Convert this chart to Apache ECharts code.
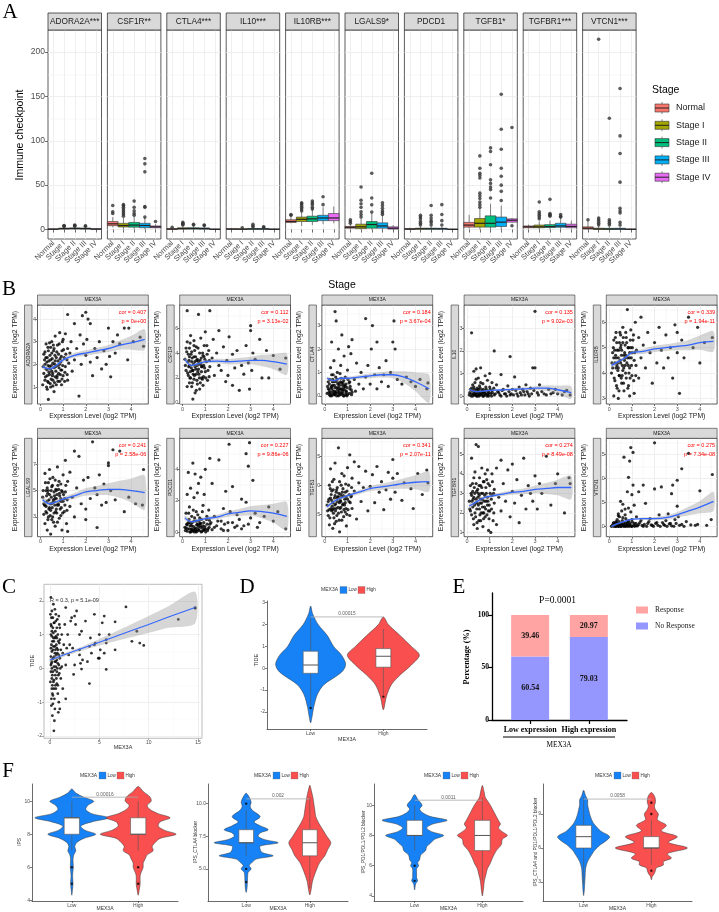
<!DOCTYPE html>
<html><head><meta charset="utf-8">
<script src="https://cdn.jsdelivr.net/npm/echarts@6.0.0/dist/echarts.min.js"></script>
<style>html,body{margin:0;padding:0;background:#fff;}#chart{width:719px;height:912px;}</style>
</head><body><div id="chart"></div>
<script>
// ===================== DATA =====================
// Panel A
const stages=['Normal','Stage I','Stage II','Stage III','Stage IV'];
const stageColors=['#F8766D','#A3A500','#00BF7D','#00B0F6','#E76BF3'];
const aGenes=['ADORA2A***','CSF1R**','CTLA4***','IL10***','IL10RB***','LGALS9*','PDCD1','TGFB1*','TGFBR1***','VTCN1***'];
const aYTicks=[0,50,100,150,200];
// [min,q1,median,q3,max] per stage
const aBoxStats=[
 [[0,0.2,0.4,0.7,1.3],[0,0.5,1,1.6,3],[0,0.6,1.1,1.8,3.2],[0,0.5,1,1.7,3],[0,0.2,0.5,0.9,1.6]],
 [[2.5,4.3,6.4,9,14],[0.5,2.8,4.5,7,13],[0.5,2.6,5,8,15],[0.3,2,4.5,7,14],[1,2,3,4,6]],
 [[0,0.2,0.5,1,2],[0,0.5,1,2,4],[0,0.5,1.1,2,4],[0,0.4,1,1.8,3.5],[0,0.1,0.3,0.5,1]],
 [[0,0.2,0.5,0.9,1.8],[0,0.2,0.4,0.8,1.5],[0,0.3,0.6,1.1,2.2],[0,0.3,0.6,1,2],[0,0.1,0.3,0.6,1]],
 [[7,8,9,11,15],[4,9,11.5,14,20],[5,9,12,15,22],[6,10,13,16,25],[7,10,13,18,26]],
 [[0.5,1.5,2.5,3.5,6],[0,1,3,6,12],[0,1.5,5.6,9,18],[0,1.5,4,7.5,16],[0,0.5,1.5,3,5]],
 [[0,0.2,0.5,1,2],[0,0.3,0.8,1.5,3.5],[0,0.3,0.8,1.5,3.5],[0,0.3,0.8,1.4,3.2],[0,0.1,0.2,0.4,0.8]],
 [[1,2.7,5,8,16.5],[0,2.7,7,12.4,24],[0,2.7,7,15.4,29],[0,3.4,8.3,14,27],[8,8.3,10.5,12,13]],
 [[1,2,3,4,5.5],[0,2,3,5,9],[0,2.2,3.3,5.5,10],[0,2.5,4,7,13],[1,2,3.5,6,10]],
 [[0,0.5,1.5,3,10],[0,0.2,0.6,1.5,4],[0,0.2,0.5,1.3,3.5],[0,0.2,0.6,1.4,3.5],[0,0.1,0.3,0.5,1]]
];
const aOutliers=[
 [[],[3.5,4,4.5],[3.8,4.4,5],[3.6,4.2],[]],
 [[18,20,27],[15,17,19,21,23,25,27,28],[16,18,21,25,32],[14,25,26,65,74,80],[9]],
 [[2.5],[5,6,7,8],[5,6],[4.5,5],[]],
 [[],[2],[3,4,6],[2.5,3],[]],
 [[16,17],[21,23,25,27,29,30],[23,25,28,30,32],[28,37],[]],
 [[7,9,11],[14,17,20,25,29,33,48],[19.6,27.8,35.6,63.5],[17,19,21,24,27,30],[]],
 [[],[5,7,9,12,14,16],[5,8,10,13,16,27],[5,10,17,28],[]],
 [[],[25,28,31,35,38,41,58,61,63.5,69,83],[35.6,45,48,52,56,73,88,92],[32.7,43,50,60,69,90.5,113,152.5],[115,4.2]],
 [[],[12,14,16,18,20,31],[15,16,17,18,34],[14,15,17],[]],
 [[11],[5,7,9,11,13,214.4],[5,7,9,11,125.4],[5,8,18.6,21,24,53.4,85.6,105.5,159],[]]
];

// Panel B
const bGenes=['ADORA2A','CSF1R','CTLA4','IL10','IL10RB','LGALS9','PDCD1','TGFB1','TGFBR1','VTCN1'];
const bCor=['cor = 0.407','cor = 0.112','cor = 0.184','cor = 0.135','cor = 0.339','cor = 0.241','cor = 0.227','cor = 0.341','cor = 0.274','cor = 0.275'];
const bP=['p = 0e+00','p = 3.13e-02','p = 3.67e-04','p = 9.02e-03','p = 1.94e-11','p = 2.58e-06','p = 9.86e-06','p = 2.07e-11','p = 8.49e-08','p = 7.34e-08'];
const bXTicks=[0,1,2,3,4];
const bYTicks=[[1,2,3,4],[0,2,4,6],[0,1,2,3],[0,1,2,3],[3,4,5,6],[3,5,7],[0,2,4],[2.5,5,7.5],[1,2,3,4,5],[0,2.5,5,7.5]];
const bYDec=[0,0,0,0,0,0,0,1,0,1];
const bYRange=[[0.25,4.62],[-0.1,7.86],[-0.35,3.88],[-0.35,4.03],[2.78,6.68],[1.5,8.97],[-0.3,5.98],[0.58,9.02],[0.78,5.82],[-1.08,9.17]];
const loessX=[0.1,0.4,0.7,1,1.5,2,2.5,3,3.5,4,4.6];
const bLoess=[
 [1.9,1.8,1.95,2.2,2.4,2.5,2.6,2.7,2.85,2.95,3.1],
 [3.5,3.0,3.15,3.3,3.35,3.3,3.35,3.4,3.4,3.3,3.1],
 [0.75,0.65,0.75,0.75,0.8,0.85,0.9,0.9,0.8,0.6,0.3],
 [0.3,0.2,0.22,0.25,0.27,0.3,0.32,0.35,0.35,0.28,0.15],
 [4.3,4.45,4.6,4.8,4.85,4.95,5.0,5.05,5.1,5.2,5.25],
 [4.3,4.0,4.15,4.35,4.6,4.9,5.0,5.1,5.1,5.0,4.85],
 [0.9,0.65,0.75,0.85,0.95,1.15,1.25,1.35,1.3,1.2,1.0],
 [3.15,3.6,3.9,4.1,4.4,4.7,4.85,5.0,5.15,5.25,5.3],
 [2.35,2.55,2.75,2.85,2.95,3.05,3.1,3.2,3.25,3.3,3.3],
 [0.0,0.3,0.55,0.75,0.8,0.8,0.9,1.2,1.6,2.0,2.6]
];
const bBand=[
 [0.12,0.08,0.08,0.08,0.1,0.12,0.13,0.15,0.2,0.3,0.45],
 [0.25,0.15,0.15,0.15,0.18,0.22,0.25,0.3,0.45,0.6,0.85],
 [0.08,0.06,0.06,0.07,0.08,0.1,0.12,0.15,0.25,0.4,0.6],
 [0.06,0.04,0.04,0.04,0.05,0.06,0.07,0.09,0.12,0.18,0.28],
 [0.1,0.07,0.07,0.08,0.1,0.12,0.13,0.15,0.2,0.28,0.4],
 [0.25,0.17,0.17,0.18,0.22,0.28,0.35,0.45,0.65,0.9,1.3],
 [0.15,0.1,0.1,0.1,0.13,0.17,0.22,0.3,0.42,0.6,0.9],
 [0.2,0.14,0.14,0.15,0.17,0.22,0.27,0.33,0.45,0.6,0.85],
 [0.13,0.08,0.08,0.08,0.1,0.12,0.15,0.2,0.28,0.4,0.6],
 [0.12,0.1,0.1,0.1,0.13,0.17,0.22,0.3,0.45,0.65,1.0]
];
const bPtsADORA2A=[[0.1,1.1],[0.15,1.6],[0.2,2.0],[0.2,1.3],[0.25,2.9],[0.25,1.8],[0.3,1.5],[0.3,2.3],[0.3,0.9],[0.35,2.6],[0.35,1.2],[0.35,0.45],[0.4,1.9],[0.4,2.95],[0.4,1.55],[0.45,2.2],[0.45,1.0],[0.5,1.7],[0.5,2.5],[0.5,3.0],[0.55,1.3],[0.55,2.05],[0.6,0.8],[0.6,1.85],[0.6,2.7],[0.65,1.45],[0.65,3.25],[0.7,2.3],[0.7,1.1],[0.75,1.95],[0.75,2.85],[0.8,1.6],[0.8,2.45],[0.85,3.4],[0.85,1.25],[0.9,2.1],[0.9,1.75],[0.95,2.6],[1.0,3.1],[1.0,1.5],[1.05,2.3],[1.1,1.9],[1.1,3.35],[1.2,2.7],[1.2,1.3],[1.3,2.5],[1.35,3.0],[1.4,1.7],[1.5,3.8],[1.5,2.2],[1.6,2.7],[1.7,0.6],[1.75,3.3],[1.8,2.0],[1.85,4.15],[1.9,2.9],[2.0,2.4],[2.05,3.1],[2.1,4.0],[2.2,2.1],[2.2,3.8],[2.3,1.5],[2.4,2.7],[2.5,2.3],[2.6,3.0],[2.7,1.8],[2.8,2.6],[2.9,2.0],[3.0,3.6],[3.05,2.35],[3.1,1.45],[3.2,3.0],[3.3,2.5],[3.4,3.3],[3.5,2.9],[3.7,3.6],[3.85,2.2],[3.9,3.6],[4.1,3.0],[4.4,3.2],[4.55,2.8],[0.2,2.55],[0.3,1.75],[0.45,2.75],[0.55,1.05],[0.65,2.15],[0.95,1.35],[1.25,2.05],[2.0,4.3],[1.2,4.2]];
const bDenseADORA2A=[[0.12,1.9],[0.18,2.2],[0.22,1.45],[0.28,2.1],[0.32,1.25],[0.33,2.75],[0.38,1.65],[0.42,2.4],[0.43,1.15],[0.48,1.95],[0.52,2.25],[0.53,1.5],[0.58,2.6],[0.62,1.2],[0.63,2.0],[0.68,1.7],[0.72,2.55],[0.73,1.4],[0.78,2.15],[0.82,1.85],[0.83,2.9],[0.88,1.55],[0.92,2.35],[0.93,1.1],[0.98,1.95],[1.02,2.65],[1.08,1.65],[1.12,2.45],[1.18,1.55],[0.15,2.45],[0.27,1.0],[0.37,2.15],[0.47,1.35],[0.57,2.85],[0.67,1.9],[0.77,1.25],[0.87,2.25],[0.97,3.0],[1.07,1.25],[1.17,2.2],[0.24,2.3],[0.44,1.8],[0.64,2.4],[0.84,2.0],[0.54,1.6],[0.74,1.5],[0.34,1.95],[0.94,1.75]];
const bPtsCSF1R=[[0.1,3.5],[0.15,2.6],[0.2,7.4],[0.2,4.9],[0.25,2.2],[0.25,3.9],[0.3,1.6],[0.3,4.4],[0.3,3.0],[0.35,5.4],[0.35,2.0],[0.4,3.3],[0.4,1.3],[0.4,4.1],[0.45,2.6],[0.45,0.3],[0.5,3.7],[0.5,1.9],[0.5,5.0],[0.55,2.9],[0.55,0.8],[0.6,4.5],[0.6,2.3],[0.65,3.5],[0.65,1.5],[0.7,7.1],[0.7,2.7],[0.75,4.0],[0.75,1.1],[0.8,3.1],[0.8,5.2],[0.85,2.0],[0.9,3.8],[0.9,1.4],[0.95,4.6],[1.0,2.5],[1.0,5.7],[1.05,3.3],[1.1,1.8],[1.15,4.2],[1.2,7.4],[1.2,2.9],[1.3,3.6],[1.35,5.1],[1.4,2.2],[1.5,4.0],[1.6,3.0],[1.6,5.8],[1.7,2.6],[1.8,4.5],[1.9,1.7],[1.95,3.4],[2.0,2.2],[2.05,5.3],[2.2,3.9],[2.2,1.4],[2.3,2.8],[2.4,4.2],[2.5,1.0],[2.6,3.0],[2.7,2.3],[2.8,4.6],[2.9,3.2],[2.95,1.1],[3.0,6.2],[3.0,5.8],[3.05,2.6],[3.1,4.0],[3.2,3.5],[3.4,5.1],[3.5,2.0],[3.7,4.2],[3.8,2.0],[4.0,3.8],[4.3,2.7],[4.55,3.6],[0.3,3.7],[0.5,4.6],[0.7,3.3],[0.85,2.9],[0.6,1.0],[0.2,1.3]];
const bDenseCSF1R=[[0.12,3.0],[0.18,4.1],[0.22,2.4],[0.28,3.4],[0.32,2.0],[0.33,4.8],[0.38,2.8],[0.42,3.6],[0.43,1.6],[0.48,3.1],[0.52,2.2],[0.53,4.2],[0.58,2.7],[0.62,3.4],[0.63,1.8],[0.68,4.4],[0.72,2.3],[0.73,3.1],[0.78,1.6],[0.82,3.6],[0.83,2.5],[0.88,4.0],[0.92,2.1],[0.93,3.0],[0.98,3.5],[1.02,2.0],[1.08,3.9],[1.12,2.6],[1.18,3.4],[0.15,4.4],[0.27,2.9],[0.37,3.9],[0.47,2.3],[0.57,3.7],[0.67,2.5],[0.77,3.4],[0.87,1.9],[0.97,2.8],[1.07,4.6],[1.17,2.1],[0.24,3.3],[0.44,2.6],[0.64,3.0],[0.84,2.9],[0.54,3.3],[0.74,2.0],[0.34,2.5],[0.94,3.7]];
const bPtsCTLA4=[[0.1,0.1],[0.15,0.3],[0.2,0.05],[0.2,0.5],[0.25,1.2],[0.25,0.15],[0.3,2.3],[0.3,0.4],[0.3,0.0],[0.35,0.7],[0.35,0.2],[0.4,1.5],[0.4,0.05],[0.45,0.35],[0.45,3.6],[0.5,0.1],[0.5,0.6],[0.5,3.2],[0.55,1.0],[0.55,0.25],[0.6,0.0],[0.6,2.0],[0.65,0.45],[0.65,0.15],[0.7,1.3],[0.7,0.05],[0.75,0.3],[0.75,2.6],[0.8,0.55],[0.8,0.1],[0.85,1.7],[0.85,0.0],[0.9,0.4],[0.9,0.8],[0.95,0.2],[1.0,1.1],[1.0,0.05],[1.05,2.1],[1.1,0.3],[1.1,0.6],[1.15,1.8],[1.2,0.15],[1.2,2.4],[1.3,0.7],[1.35,0.2],[1.4,1.4],[1.5,0.5],[1.6,1.0],[1.7,0.3],[1.8,3.3],[1.8,0.8],[1.9,1.3],[2.0,0.5],[2.05,2.0],[2.1,3.0],[2.2,0.9],[2.3,0.3],[2.3,2.3],[2.4,1.2],[2.5,0.6],[2.6,0.9],[2.7,1.5],[2.8,0.4],[2.9,1.0],[3.0,2.3],[3.05,3.2],[3.1,2.0],[3.2,0.7],[3.4,0.5],[3.6,0.8],[3.8,0.6],[4.0,0.4],[4.2,0.7],[4.5,0.3],[4.55,0.55],[0.3,0.9],[0.6,0.35],[0.4,0.6],[0.7,0.6],[0.2,0.25],[0.8,0.25]];
const bDenseCTLA4=[[0.12,0.4],[0.18,0.15],[0.22,0.7],[0.28,0.05],[0.32,0.3],[0.33,0.6],[0.38,0.1],[0.42,0.45],[0.43,0.2],[0.48,0.8],[0.52,0.0],[0.53,0.35],[0.58,0.15],[0.62,0.55],[0.63,0.05],[0.68,0.3],[0.72,0.75],[0.73,0.1],[0.78,0.45],[0.82,0.0],[0.83,0.65],[0.88,0.25],[0.92,0.05],[0.93,0.5],[0.98,0.35],[1.02,0.7],[1.08,0.1],[1.12,0.4],[1.18,0.05],[0.15,0.6],[0.27,0.35],[0.37,0.9],[0.47,0.15],[0.57,0.5],[0.67,0.95],[0.77,0.2],[0.87,0.45],[0.97,0.0],[1.07,0.55],[1.17,0.25],[0.24,0.0],[0.44,0.05],[0.64,0.25],[0.84,0.35],[0.54,0.7],[0.74,0.55],[0.34,0.45],[0.94,0.15]];
const bPtsIL10=[[0.1,0.05],[0.15,0.3],[0.2,0.1],[0.2,2.8],[0.25,0.5],[0.25,0.0],[0.3,1.1],[0.3,0.2],[0.35,0.05],[0.35,0.6],[0.4,1.2],[0.4,0.1],[0.45,0.35],[0.45,0.0],[0.5,0.8],[0.5,0.15],[0.55,0.05],[0.55,0.45],[0.6,1.25],[0.6,0.1],[0.65,0.25],[0.7,0.0],[0.7,0.55],[0.75,0.15],[0.8,0.9],[0.8,0.05],[0.85,0.3],[0.9,0.1],[0.9,0.7],[0.95,0.0],[1.0,0.4],[1.0,1.0],[1.05,0.1],[1.1,0.25],[1.2,2.0],[1.2,0.05],[1.3,0.5],[1.4,0.15],[1.5,0.95],[1.5,0.0],[1.6,0.3],[1.7,0.1],[1.8,0.45],[1.9,1.75],[1.9,0.05],[2.0,0.3],[2.1,0.85],[2.2,0.1],[2.3,0.4],[2.4,0.05],[2.5,0.2],[2.6,0.5],[2.7,0.1],[2.8,0.35],[2.9,1.25],[3.0,3.75],[3.0,1.25],[3.1,0.15],[3.2,0.5],[3.4,0.1],[3.6,0.3],[3.8,0.15],[4.0,0.1],[4.3,0.2],[4.55,0.05],[0.3,0.4],[0.5,0.3],[0.7,0.2],[0.4,0.75],[0.6,0.6],[1.1,0.6],[0.2,0.35]];
const bDenseIL10=[[0.12,0.15],[0.18,0.0],[0.22,0.25],[0.28,0.1],[0.32,0.05],[0.33,0.3],[0.38,0.15],[0.42,0.0],[0.43,0.25],[0.48,0.05],[0.52,0.2],[0.53,0.0],[0.58,0.35],[0.62,0.05],[0.63,0.15],[0.68,0.1],[0.72,0.3],[0.73,0.0],[0.78,0.2],[0.82,0.1],[0.83,0.4],[0.88,0.0],[0.92,0.2],[0.93,0.05],[0.98,0.15],[1.02,0.3],[1.08,0.0],[1.12,0.15],[1.18,0.35],[1.25,0.1],[1.35,0.2],[1.45,0.05],[1.55,0.25],[1.65,0.1],[1.75,0.0],[1.85,0.2],[1.95,0.1],[2.05,0.05],[2.15,0.25],[2.25,0.0],[2.35,0.15],[2.45,0.3],[2.55,0.05],[2.65,0.2],[2.75,0.0],[2.85,0.1],[2.95,0.25],[3.15,0.05],[3.3,0.2],[3.5,0.05],[3.7,0.1],[3.9,0.3],[4.2,0.05],[4.4,0.25]];
const bPtsIL10RB=[[0.1,4.0],[0.15,4.8],[0.2,3.1],[0.2,5.3],[0.25,4.4],[0.25,3.7],[0.3,5.6],[0.3,4.2],[0.35,3.4],[0.35,4.9],[0.4,4.6],[0.4,3.0],[0.45,5.2],[0.45,3.9],[0.5,4.4],[0.5,5.5],[0.55,3.6],[0.55,4.9],[0.6,4.1],[0.6,5.8],[0.65,4.7],[0.65,3.3],[0.7,5.1],[0.7,4.3],[0.75,3.8],[0.75,5.4],[0.8,4.6],[0.8,6.5],[0.85,3.5],[0.85,5.0],[0.9,4.2],[0.9,3.1],[0.95,5.7],[1.0,4.8],[1.0,3.9],[1.05,5.3],[1.1,4.5],[1.1,3.2],[1.15,6.0],[1.2,4.9],[1.3,5.4],[1.3,3.8],[1.4,6.2],[1.4,4.6],[1.5,5.1],[1.6,4.2],[1.7,5.6],[1.8,4.8],[1.9,3.6],[2.0,5.2],[2.1,4.4],[2.2,5.8],[2.3,4.9],[2.4,4.2],[2.5,5.5],[2.6,4.6],[2.7,5.0],[2.8,3.8],[2.9,5.9],[3.0,4.8],[3.0,5.6],[3.1,3.2],[3.2,5.3],[3.3,4.6],[3.5,6.2],[3.7,5.0],[3.9,5.8],[4.0,4.4],[4.2,5.2],[4.55,5.4],[0.3,4.6],[0.5,5.0],[0.7,4.6],[0.4,4.2],[0.6,5.2],[0.9,4.8],[0.2,4.6]];
const bDenseIL10RB=[[0.12,4.4],[0.18,5.0],[0.22,3.8],[0.28,4.7],[0.32,3.5],[0.33,5.2],[0.38,4.1],[0.42,4.9],[0.43,3.3],[0.48,4.5],[0.52,5.1],[0.53,3.8],[0.58,4.3],[0.62,5.4],[0.63,3.6],[0.68,4.8],[0.72,4.0],[0.73,5.6],[0.78,4.4],[0.82,3.4],[0.83,5.0],[0.88,4.6],[0.92,3.8],[0.93,5.3],[0.98,4.3],[1.02,5.0],[1.08,3.7],[1.12,4.8],[1.18,4.3],[0.15,4.2],[0.27,5.4],[0.37,4.4],[0.47,5.6],[0.57,3.9],[0.67,4.5],[0.77,5.2],[0.87,4.0],[0.97,4.6],[1.07,5.5],[1.17,3.9],[0.24,4.9],[0.44,3.9],[0.64,4.2],[0.84,4.3],[0.54,4.7],[0.74,4.7],[0.34,4.3],[0.94,5.0]];
const bPtsLGALS9=[[0.1,4.5],[0.15,3.2],[0.2,6.3],[0.2,2.5],[0.25,5.0],[0.25,3.8],[0.3,4.2],[0.3,2.0],[0.35,5.6],[0.35,3.0],[0.4,4.7],[0.4,6.6],[0.45,3.5],[0.45,1.7],[0.5,5.3],[0.5,2.8],[0.55,4.1],[0.55,6.0],[0.6,3.3],[0.6,4.9],[0.65,2.3],[0.65,5.8],[0.7,4.4],[0.7,3.6],[0.75,6.8],[0.75,2.6],[0.8,5.1],[0.8,3.9],[0.85,4.6],[0.9,3.1],[0.9,5.5],[0.95,2.0],[1.0,4.2],[1.0,6.2],[1.05,3.4],[1.1,7.3],[1.1,4.9],[1.15,2.5],[1.2,5.7],[1.2,1.9],[1.3,3.8],[1.3,6.4],[1.4,4.5],[1.5,8.0],[1.5,3.0],[1.6,5.2],[1.7,7.6],[1.8,4.0],[1.9,5.8],[2.0,2.8],[2.0,3.6],[2.1,6.0],[2.2,4.4],[2.3,8.7],[2.4,5.2],[2.5,2.2],[2.5,4.7],[2.6,6.2],[2.7,3.9],[2.8,5.5],[2.9,4.1],[3.0,7.1],[3.0,6.9],[3.1,5.0],[3.2,8.1],[3.3,4.3],[3.5,8.0],[3.7,3.4],[3.9,4.5],[4.2,4.0],[4.5,3.9],[4.55,6.6],[0.3,5.2],[0.5,4.0],[0.7,5.0],[0.4,3.7],[0.6,4.2],[0.2,3.9],[0.9,4.4]];
const bDenseLGALS9=[[0.12,5.0],[0.18,3.9],[0.22,5.6],[0.28,3.3],[0.32,4.8],[0.33,2.8],[0.38,4.3],[0.42,5.9],[0.43,3.1],[0.48,4.5],[0.52,3.7],[0.53,5.4],[0.58,2.6],[0.62,4.6],[0.63,3.9],[0.68,5.1],[0.72,3.3],[0.73,4.7],[0.78,4.0],[0.82,5.7],[0.83,2.9],[0.88,4.2],[0.92,3.7],[0.93,5.0],[0.98,3.3],[1.02,4.7],[1.08,3.9],[1.12,5.4],[1.18,4.3],[0.15,4.0],[0.27,4.6],[0.37,3.6],[0.47,5.0],[0.57,4.3],[0.67,3.4],[0.77,5.4],[0.87,3.6],[0.97,4.9],[1.07,4.4],[1.17,3.5],[0.24,3.4],[0.44,4.0],[0.64,4.4],[0.84,4.8],[0.54,3.0],[0.74,3.9],[0.34,5.0],[0.94,4.2]];
const bPtsPDCD1=[[0.1,0.3],[0.15,1.2],[0.2,0.05],[0.2,2.4],[0.25,0.6],[0.25,3.8],[0.3,0.2],[0.3,1.6],[0.35,0.0],[0.35,2.8],[0.4,0.4],[0.4,1.0],[0.45,4.4],[0.45,0.1],[0.5,0.7],[0.5,2.2],[0.55,0.25],[0.55,3.7],[0.6,0.0],[0.6,1.3],[0.65,0.5],[0.65,2.5],[0.7,0.15],[0.7,3.1],[0.75,0.9],[0.8,0.3],[0.8,3.5],[0.85,0.05],[0.9,1.7],[0.9,0.4],[0.95,2.4],[1.0,0.2],[1.0,4.0],[1.05,0.8],[1.1,0.1],[1.15,1.4],[1.2,4.7],[1.2,0.5],[1.3,3.1],[1.3,0.15],[1.4,1.0],[1.5,0.4],[1.6,4.6],[1.7,0.7],[1.8,1.5],[1.8,0.1],[1.9,2.6],[2.0,0.6],[2.05,5.6],[2.1,1.3],[2.2,2.9],[2.3,0.3],[2.4,1.1],[2.5,0.8],[2.6,2.1],[2.7,0.4],[2.8,1.9],[2.8,5.0],[2.9,4.2],[2.95,5.7],[3.0,0.9],[3.1,3.3],[3.2,1.2],[3.4,0.6],[3.6,1.0],[3.8,1.6],[4.0,0.7],[4.2,1.3],[4.55,0.2],[0.3,0.6],[0.5,0.15],[0.7,0.45],[0.4,0.2],[0.6,0.7],[0.8,0.55],[0.2,0.45]];
const bDensePDCD1=[[0.12,0.1],[0.18,0.5],[0.22,0.2],[0.28,0.8],[0.32,0.0],[0.33,0.4],[0.38,0.15],[0.42,0.6],[0.43,0.05],[0.48,0.35],[0.52,0.0],[0.53,0.9],[0.58,0.2],[0.62,0.45],[0.63,0.05],[0.68,0.3],[0.72,0.7],[0.73,0.1],[0.78,0.4],[0.82,0.0],[0.83,0.8],[0.88,0.25],[0.92,0.1],[0.93,0.6],[0.98,0.35],[1.02,0.0],[1.08,0.5],[1.12,0.2],[1.18,0.75],[0.15,0.25],[0.27,1.2],[0.37,0.55],[0.47,1.4],[0.57,0.1],[0.67,1.1],[0.77,0.55],[0.87,1.3],[0.97,0.15],[1.07,1.0],[1.17,0.3],[1.25,0.6],[1.4,0.3],[1.55,0.7],[1.7,0.2],[1.85,0.5],[2.0,0.1],[2.2,0.6],[2.4,0.4],[2.6,0.2],[2.9,0.5],[3.3,0.3]];
const bPtsTGFB1=[[0.1,3.3],[0.15,2.4],[0.2,5.0],[0.2,1.6],[0.25,3.9],[0.25,6.4],[0.3,2.8],[0.3,4.5],[0.35,1.3],[0.35,3.5],[0.4,5.5],[0.4,2.2],[0.45,4.1],[0.45,6.9],[0.5,3.0],[0.5,1.9],[0.55,4.8],[0.55,3.6],[0.6,8.2],[0.6,2.6],[0.65,5.3],[0.65,1.0],[0.7,4.2],[0.7,3.1],[0.75,6.0],[0.75,2.0],[0.8,4.7],[0.8,3.4],[0.85,5.8],[0.9,2.7],[0.9,4.4],[0.95,1.5],[1.0,3.8],[1.0,6.5],[1.05,5.0],[1.1,2.4],[1.1,7.6],[1.15,4.0],[1.2,5.6],[1.2,3.0],[1.3,7.0],[1.3,4.5],[1.4,2.1],[1.5,5.2],[1.5,6.6],[1.6,3.6],[1.7,4.8],[1.8,6.2],[1.9,2.8],[2.0,4.9],[2.1,5.9],[2.2,3.5],[2.3,6.6],[2.4,4.4],[2.5,5.3],[2.6,2.9],[2.7,4.6],[2.8,6.1],[2.9,3.8],[3.0,5.6],[3.0,7.2],[3.1,4.4],[3.2,6.0],[3.4,3.7],[3.5,5.2],[3.8,4.7],[3.9,3.0],[4.1,6.0],[4.3,4.2],[4.5,6.3],[4.55,5.2],[0.3,3.7],[0.5,4.4],[0.7,3.6],[0.4,3.0],[0.6,4.0],[0.2,2.9],[0.9,3.5]];
const bDenseTGFB1=[[0.12,2.8],[0.18,3.8],[0.22,2.2],[0.28,4.2],[0.32,3.2],[0.33,5.3],[0.38,2.6],[0.42,3.9],[0.43,1.7],[0.48,3.4],[0.52,4.6],[0.53,2.4],[0.58,3.1],[0.62,4.3],[0.63,2.0],[0.68,3.7],[0.72,5.0],[0.73,2.7],[0.78,3.3],[0.82,4.1],[0.83,2.3],[0.88,3.8],[0.92,5.1],[0.93,3.0],[0.98,4.5],[1.02,2.9],[1.08,4.2],[1.12,3.5],[1.18,4.8],[0.15,3.6],[0.27,3.0],[0.37,4.6],[0.47,2.8],[0.57,4.0],[0.67,3.0],[0.77,4.4],[0.87,3.3],[0.97,2.5],[1.07,3.6],[1.17,4.1],[0.24,4.7],[0.44,3.3],[0.64,3.5],[0.84,2.9],[0.54,3.9],[0.74,4.0],[0.34,2.9],[0.94,4.0]];
const bPtsTGFBR1=[[0.1,2.6],[0.15,3.4],[0.2,1.9],[0.2,4.8],[0.25,2.3],[0.25,3.1],[0.3,1.4],[0.3,2.8],[0.35,4.1],[0.35,2.0],[0.4,5.5],[0.4,3.5],[0.45,2.5],[0.45,1.2],[0.5,5.4],[0.5,3.0],[0.55,2.2],[0.55,3.8],[0.6,1.6],[0.6,2.7],[0.65,4.3],[0.65,3.3],[0.7,2.0],[0.7,1.3],[0.75,3.6],[0.75,2.6],[0.8,4.0],[0.8,1.8],[0.85,3.0],[0.9,2.4],[0.9,4.2],[0.95,1.1],[1.0,3.4],[1.0,2.1],[1.05,1.0],[1.1,2.9],[1.1,4.0],[1.15,1.6],[1.2,3.2],[1.2,2.5],[1.3,4.3],[1.3,1.4],[1.4,2.8],[1.5,4.7],[1.5,2.1],[1.6,3.5],[1.7,2.6],[1.8,4.2],[1.9,1.8],[2.0,3.1],[2.0,4.5],[2.1,2.5],[2.2,3.7],[2.3,1.5],[2.4,2.9],[2.5,4.8],[2.6,2.2],[2.7,3.4],[2.8,3.0],[2.9,2.6],[3.0,3.9],[3.1,2.2],[3.2,3.5],[3.3,3.0],[3.5,4.9],[3.7,2.4],[3.9,3.5],[4.0,4.0],[4.3,2.0],[4.5,3.8],[4.55,3.5],[0.3,3.8],[0.5,2.4],[0.7,3.0],[0.4,2.7],[0.6,3.4],[0.2,2.9],[0.9,2.8]];
const bDenseTGFBR1=[[0.12,2.2],[0.18,3.0],[0.22,2.6],[0.28,1.7],[0.32,3.3],[0.33,2.4],[0.38,1.8],[0.42,3.1],[0.43,2.2],[0.48,2.8],[0.52,1.6],[0.53,3.4],[0.58,2.5],[0.62,2.0],[0.63,3.0],[0.68,2.3],[0.72,3.6],[0.73,1.7],[0.78,2.9],[0.82,2.2],[0.83,3.3],[0.88,1.9],[0.92,2.6],[0.93,3.5],[0.98,2.4],[1.02,3.0],[1.08,2.2],[1.12,3.6],[1.18,2.0],[0.15,2.1],[0.27,2.7],[0.37,2.5],[0.47,3.2],[0.57,1.9],[0.67,2.7],[0.77,2.3],[0.87,3.7],[0.97,1.7],[1.07,2.7],[1.17,3.0],[0.24,3.5],[0.44,1.5],[0.64,2.5],[0.84,2.6],[0.54,2.9],[0.74,2.0],[0.34,3.0],[0.94,2.1]];
const bPtsVTCN1=[[0.1,0.0],[0.15,0.1],[0.2,0.0],[0.2,0.4],[0.25,0.05],[0.3,0.2],[0.3,0.0],[0.35,0.7],[0.35,0.05],[0.4,0.0],[0.4,1.3],[0.45,0.15],[0.5,0.0],[0.5,2.6],[0.55,0.3],[0.55,0.05],[0.6,0.9],[0.6,2.3],[0.65,0.0],[0.65,7.2],[0.7,0.4],[0.7,1.8],[0.75,0.1],[0.8,3.6],[0.8,0.0],[0.85,5.1],[0.85,0.6],[0.9,6.8],[0.9,0.2],[0.95,8.2],[0.95,1.5],[1.0,0.0],[1.0,3.3],[1.05,7.7],[1.05,4.3],[1.1,0.3],[1.1,2.2],[1.2,0.05],[1.2,1.0],[1.3,3.6],[1.3,0.2],[1.4,0.6],[1.5,4.3],[1.5,0.0],[1.6,2.4],[1.7,0.3],[1.8,0.8],[1.9,0.1],[2.0,8.7],[2.0,3.9],[2.1,0.4],[2.2,1.2],[2.3,4.1],[2.4,0.2],[2.5,0.6],[2.6,1.3],[2.7,0.3],[2.75,3.4],[2.8,4.3],[2.9,0.7],[3.0,4.8],[3.0,2.1],[3.05,1.0],[3.2,6.0],[3.2,0.2],[3.4,0.5],[3.5,7.6],[3.8,0.1],[3.9,0.2],[4.0,3.7],[4.3,0.1],[4.5,0.7],[4.55,5.4],[0.3,0.5],[0.5,0.3],[0.7,0.05],[0.45,1.0],[0.6,0.1],[0.25,0.25],[0.8,0.35],[1.0,0.7]];
const bDenseVTCN1=[[0.12,0.05],[0.18,0.3],[0.22,0.15],[0.28,0.0],[0.32,0.4],[0.33,0.1],[0.38,0.25],[0.42,0.0],[0.43,0.5],[0.48,0.1],[0.52,0.2],[0.53,0.0],[0.58,0.6],[0.62,0.05],[0.63,0.3],[0.68,0.15],[0.72,0.0],[0.73,0.8],[0.78,0.25],[0.82,0.1],[0.83,0.5],[0.88,0.0],[0.92,0.35],[0.93,0.1],[0.98,0.0],[1.02,0.45],[1.08,0.1],[1.12,0.0],[1.18,0.3],[1.25,0.05],[1.35,0.4],[1.45,0.1],[1.55,0.2],[1.65,0.0],[1.75,0.5],[1.85,0.15],[1.95,0.0],[2.05,0.3],[2.15,0.1],[2.25,0.0],[2.35,0.4],[2.45,0.1],[2.55,0.0],[2.65,0.25],[2.75,0.05],[2.85,0.0],[2.95,0.3],[3.1,0.1],[3.3,0.0],[3.6,0.15],[0.4,1.1],[0.55,1.6],[0.7,1.2],[0.85,1.9]];
const bPts=[bPtsADORA2A.concat(bDenseADORA2A),bPtsCSF1R.concat(bDenseCSF1R),bPtsCTLA4.concat(bDenseCTLA4),bPtsIL10.concat(bDenseIL10),bPtsIL10RB.concat(bDenseIL10RB),
  bPtsLGALS9.concat(bDenseLGALS9),bPtsPDCD1.concat(bDensePDCD1),bPtsTGFB1.concat(bDenseTGFB1),bPtsTGFBR1.concat(bDenseTGFBR1),bPtsVTCN1.concat(bDenseVTCN1)];

// Panel C
const cXTicks=[0,5,10,15];
const cYTicks=[-2,-1,0,1,2];
const cPts=[[0.1,2.1],[0.2,1.7],[0.15,1.5],[0.3,1.2],[0.1,1.0],[0.25,0.8],[0.2,0.5],[0.35,0.3],[0.1,0.1],[0.3,-0.1],[0.2,-0.3],[0.4,-0.6],[0.15,-0.9],[0.3,-1.05],[0.5,-1.2],[0.45,-1.55],[0.4,-1.85],[0.5,1.75],[0.6,1.4],[0.55,1.1],[0.7,0.9],[0.5,0.65],[0.65,0.4],[0.6,0.2],[0.75,0.0],[0.55,-0.2],[0.7,-0.45],[0.8,-0.75],[0.9,-1.0],[0.85,-1.3],[1.0,-1.2],[0.9,1.55],[1.0,1.2],[0.95,0.75],[1.1,0.55],[1.0,0.3],[1.2,0.05],[1.1,-0.3],[1.3,-0.6],[1.2,1.0],[1.4,0.7],[1.5,1.3],[1.3,0.45],[1.6,-0.9],[1.6,0.1],[0.2,0.95],[0.35,0.65],[0.1,0.35],[0.4,0.05],[0.25,-0.5],[0.45,1.35],[0.6,-0.6],[0.8,0.55],[0.35,1.9],[0.15,1.25],[0.3,-0.8],[0.7,1.2],[0.2,0.2],[0.5,0.9],[0.8,0.15],
 [14.7,1.8],[14.7,1.78],[13,1.45],[9.5,0.68],[9.1,0.75],[8.8,1.1],[8.3,0.8],[7.7,1.82],[6.6,1.38],[6.6,0.55],[6,1.0],[5.7,0.85],[5.7,0.75],[5.7,-0.03],[5.5,1.55],[5.5,0.45],[5.3,1.35],[5.1,0.55],[5,1.0],[5,0.3],[4.9,0.3],[4.6,0.75],[4.5,1.6],[4.5,0.7],[4.2,0.45],[4.1,0.9],[4.0,0.65],[4,-0.45],[3.8,0.2],[3.6,1.4],[3.3,0.25],[3.2,1.1],[3.2,-0.02],[3.1,0.15],[3.0,0.4],[3.0,0.55],[3.0,1.0],[2.7,1.7],[2.5,1.55],[2.5,0.1],[2.4,-0.18],[2.3,0.6],[2.1,1.4],[2.0,0.7],[1.8,1.0],[1.6,1.8],[2.2,1.5],[1.9,0.4],[2.6,1.3],[1.7,0.6]];
const cDense=[[0.05,1.6],[0.1,1.3],[0.15,0.7],[0.2,0.0],[0.25,-0.2],[0.3,0.55],[0.35,1.05],[0.4,-0.35],[0.45,0.35],[0.5,-0.05],[0.55,0.55],[0.6,0.95],[0.65,-0.3],[0.7,0.25],[0.75,1.45],[0.8,-0.5],[0.85,0.8],[0.9,0.1],[0.95,-0.15],[1.0,0.85],[0.05,-0.4],[0.1,0.6],[0.15,0.15],[0.2,1.1],[0.25,-0.75],[0.3,0.3],[0.35,-0.4],[0.4,0.8],[0.45,-0.9],[0.5,0.45],[0.55,-0.5],[0.6,1.6],[0.65,0.7],[0.7,-0.1],[0.75,0.45],[0.8,1.0],[0.85,-0.2],[0.9,0.4],[0.95,1.3],[1.05,0.0],[0.1,-0.1],[0.2,-0.6],[0.3,1.5],[0.4,1.35],[0.5,0.2],[0.6,0.05],[0.7,0.6],[0.15,-1.1],[0.25,-1.4],[0.35,0.9]];
const cLineX=[0,2,4,6,8,10,12,14.7];
const cLineY=[0.25,0.46,0.67,0.88,1.09,1.30,1.52,1.80];
const cBandHalf=[0.06,0.05,0.07,0.12,0.18,0.25,0.32,0.47];

// Panel D (TIDE violins)
const groups=['Low','High'];
const groupColors=['#1682F5','#F94F4F'];
const dYTicks=[-2,-1,0,1,2,3];
const dLowY=[2.85,2.5,2.0,1.5,1.0,0.6,0.2,-0.1,-0.35,-0.75,-1.2,-1.8,-2.2,-2.5];
const dLowD=[0,2,7.5,16.7,23,31,35,32.5,26,13.3,6.7,3,1.5,0];
const dHighY=[2.35,2.0,1.5,1.0,0.6,0.15,-0.3,-0.75,-1.3,-1.9];
const dHighD=[0,5,16.7,28,36,28,17,8,3,0];
const dBox=[[-1.75,-0.23,0.15,0.78,2.3],[-1.2,0.05,0.55,0.9,1.8]];
const dOut=[[-1.82],[-1.3]];
const dPval='0.00015';

// Panel E
const eCats=['Low expression','High expression'];
const eNoResp=[60.54,79.03];
const eResp=[39.46,20.97];
const eYTicks=[0,50,100];
const eColors=['#9696FF','#FFA3A3'];

// Panel F (IPS violins)
const fTitles=['IPS','IPS_CTLA4 blocker','IPS_PD1/PDL1/PDL2 blocker','IPS_CTLA4 and PD1/PDL1/PDL2 blocker'];
const fYTicks=[[4,6,8,10],[5,7.5,10],[4,6,8,10],[3,6,9]];
const fYDec=[0,1,0,0];
const fPvals=['0.00016','0.002','0.0011','0.0058'];
const fBracketY=[10.25,10.36,10.33,10.32];
const f1LowY=[10.75,10.5,10.25,10,9.75,9.5,9.25,9,8.75,8.5,8.25,8,7.75,7.5,7.25,7,6.75,6.5,6,5.5,5,4.6,4.3];
const f1LowD=[0,4,12,22,16,14,20,37,20,9,13,24,12,5,3,4,2,1.2,1.5,0.8,1.2,0.6,0];
const f1HighY=[10.9,10.6,10.25,10,9.75,9.5,9.25,9,8.75,8.5,8.25,8,7.75,7.5,7.25,7,6.75,6.5,6.25,6,5.5,5,4.6,4.3];
const f1HighD=[0,5,12,13,9,12,20,32,22,20,26,38,22,17,14,15,9,7,5,5,2,2,1,0];
const f2LowY=[10.8,10.5,10.1,9.8,9.5,9,8.6,8.3,8,7.75,7.5,7.25,7,6.75,6.5,6.25,6,5.75,5.5,5.25,5,4.75,4.5,4,3.5,3.2];
const f2LowD=[0,3,5,4,6,14,8,14,22,14,12,18,32,14,14,16,27,10,6,3,5,2,1.5,1.2,0.8,0];
const f2HighY=[11.4,11,10.5,10,9.5,9,8.5,8,7.5,7,6.5,6,5.5,5,4.5,4,3.5,3.0];
const f2HighD=[0,1.5,3,4,5,6,9,13,17,21,18,15,10,7,4.5,2.5,1.5,0];
const f3LowY=[10.7,10.4,10,9.75,9.5,9.25,9,8.75,8.5,8.25,8,7.75,7.5,7.25,7,6.7,6.4,6.2,6,5.8,5.4,5.2,5,4.8,4.4];
const f3LowD=[0,3,7.5,5,8,16,32.5,18,12,17,29,20,16,12,11,6,5,3,4,2,2,2,3,1,0];
const f3HighY=[11.3,10.8,10.5,10,9.5,9,8.75,8.5,8.25,8,7.75,7.4,7,6.5,6.1,5.8,5.4,5,4.4,4.0];
const f3HighD=[0,2,3,8,12,16,18,16,20,25,20,19,14,10,7.5,5,3.5,2,1,0];
const f4LowY=[11.1,10.6,10.25,9.8,9.4,9,8.5,8.05,7.5,7,6.6,6.3,5.8,5.4,4.8,4.2,3.5,2.8,2.2,1.8];
const f4LowD=[0,2,4,4,5,6,8,11,17,26,22,17,11,8,4,2,1.5,1,0.6,0];
const f4HighY=[10.9,10.6,10.3,10,9.7,9.4,9,8.5,8,7.5,7,6.5,6,5.5,5.1,4.8,4.5,4.25,4,3.75,3.5,3.2];
const f4HighD=[0,3,4,4,3,4,7,6,15,10,26,17,36,16,20,12,12,5,4,3,1,0];
const fBox=[
 [[7,8,9,9,10],[7,8,8,9,10]],
 [[6,7,7,8,9.5],[3.5,6,7,8,10.5]],
 [[7,8,8,9,10],[5,7,8,9,10.5]],
 [[2.8,6,7,8,10.5],[4.5,6,6,7,8.5]]
];
const fOut=[[[6,5],[6,5]],[[10,5,4],[]],[[6,5],[]],[[],[10,9,4]]];

// ===================== BUILD =====================
const SANS='"Liberation Sans", Arial, Helvetica, sans-serif';
const SERIF='"Liberation Serif", "Times New Roman", serif';
const grid=[],xAxis=[],yAxis=[],series=[],graphic=[];

function T(x,y,text,size,o={}){
  graphic.push({type:'text',x,y,rotation:o.rot||0,silent:true,z:100,
    style:{text,fill:o.color||'#000',fontSize:size,fontFamily:o.family||SANS,fontWeight:o.weight||'normal',align:o.align||'center',verticalAlign:o.va||'middle'}});
}
function R(x,y,w,h,fill,stroke,lw){
  graphic.push({type:'rect',silent:true,z:90,shape:{x,y,width:w,height:h},style:{fill,stroke:stroke||null,lineWidth:lw||0}});
}
function L(x1,y1,x2,y2,stroke,lw){
  graphic.push({type:'line',silent:true,z:90,shape:{x1,y1,x2,y2},style:{stroke,lineWidth:lw||1}});
}
function valAxis(min,max,ticks,o={}){
  return {type:'value',min,max,
    axisLine:{show:!!o.line,onZero:false,lineStyle:{color:o.lineColor||'#333',width:o.lineWidth||0.8}},
    axisTick:{show:o.tick!==false,customValues:ticks,length:o.tickLen||2,lineStyle:{color:o.tickColor||'#333',width:o.tickWidth||0.7}},
    axisLabel:{show:o.label!==false,customValues:ticks,formatter:o.fmt||(v=>String(v)),fontSize:o.fs||5.5,color:o.lc||'#4D4D4D',
      margin:o.margin!=null?o.margin:2,fontFamily:o.ff||SANS,fontWeight:o.fw||'normal',rotate:o.rotate||0,hideOverlap:false,
      showMinLabel:true,showMaxLabel:true},
    splitLine:{show:!!o.split,lineStyle:{color:o.splitColor||'#EBEBEB',width:o.splitWidth||0.8}},
    splitArea:{show:false}
  };
}
function addPanel(g,xs,ys){
  const gi=grid.length;
  grid.push(Object.assign({show:true,borderWidth:0,backgroundColor:'transparent'},g));
  const xi=xs.map(a=>{a.gridIndex=gi;xAxis.push(a);return xAxis.length-1;});
  const yi=ys.map(a=>{a.gridIndex=gi;yAxis.push(a);return yAxis.length-1;});
  return {gi,xi:xi[0],yi:yi[0]};
}
function minorsOf(t,min,max){
  const s=t[1]-t[0],out=[];
  for(let v=t[0]-s/2;v<=max+1e-9;v+=s){ if(v>=min) out.push(+v.toFixed(4)); }
  return out;
}
function boxRenderer(wUnits,fills,stroke,lw,lwMed){
  return function(params,api){
    const x=api.value(0);
    const pLo=api.coord([x,api.value(1)]),pQ1=api.coord([x,api.value(2)]),pMd=api.coord([x,api.value(3)]),pQ3=api.coord([x,api.value(4)]),pHi=api.coord([x,api.value(5)]);
    const w=api.size([wUnits,0])[0],cx=pLo[0];
    const fill=fills[params.dataIndex%fills.length];
    return {type:'group',children:[
      {type:'line',shape:{x1:cx,y1:pLo[1],x2:cx,y2:pQ1[1]},style:{stroke,lineWidth:lw}},
      {type:'line',shape:{x1:cx,y1:pQ3[1],x2:cx,y2:pHi[1]},style:{stroke,lineWidth:lw}},
      {type:'rect',shape:{x:cx-w/2,y:pQ3[1],width:w,height:pQ1[1]-pQ3[1]},style:{fill,stroke,lineWidth:lw}},
      {type:'line',shape:{x1:cx-w/2,y1:pMd[1],x2:cx+w/2,y2:pMd[1]},style:{stroke:lwMed>1?'#222':stroke,lineWidth:lwMed}}
    ]};
  };
}
function bandSeries(P,xs,ys,half,fill,op,z){
  return {type:'custom',coordinateSystem:'cartesian2d',xAxisIndex:P.xi,yAxisIndex:P.yi,silent:true,z,clip:true,
    data:[[xs[0],ys[0]]],encode:{x:0,y:1},
    renderItem:(params,api)=>{
      const up=xs.map((x,k)=>api.coord([x,ys[k]+half[k]]));
      const lo=xs.map((x,k)=>api.coord([x,ys[k]-half[k]])).reverse();
      return {type:'polygon',shape:{points:up.concat(lo),smooth:0.25},style:{fill,opacity:op}};
    }};
}
function violinSeries(P,profiles,halfUnits,fills){
  const maxD=Math.max(...profiles.map(p=>Math.max(...p.d)));
  return {type:'custom',coordinateSystem:'cartesian2d',xAxisIndex:P.xi,yAxisIndex:P.yi,silent:true,z:3,
    data:profiles.map((p,i)=>[i+1,0]),encode:{x:0,y:1},
    renderItem:(params,api)=>{
      const i=params.dataIndex,p=profiles[i],xc=api.value(0);
      const right=[],left=[];
      p.y.forEach((y,k)=>{const h=p.d[k]/maxD*halfUnits;right.push(api.coord([xc+h,y]));left.push(api.coord([xc-h,y]));});
      const pts=right.concat(left.reverse().slice(1,-1));
      return {type:'polygon',shape:{points:pts,smooth:0.3},style:{fill:fills[i],stroke:'#333',lineWidth:0.5}};
    }};
}
function legendMEX(x,y){
  T(x,y,'MEX3A',5,{align:'right',color:'#333'});
  R(x+2,y-3.5,7,7,groupColors[0],'#666',0.3); T(x+10.5,y,'Low',4.5,{align:'left',color:'#333'});
  R(x+20,y-3.5,7,7,groupColors[1],'#666',0.3); T(x+28.5,y,'High',4.5,{align:'left',color:'#333'});
}

// ---------- Panel A ----------
T(10,12,'A',21,{family:SERIF});
aGenes.forEach((g,i)=>{
  const left=48+59.4*i,w=53.5;
  const catX={type:'category',data:stages,boundaryGap:true,
    axisLine:{show:false},
    axisTick:{show:true,alignWithLabel:true,interval:0,length:3,lineStyle:{color:'#333',width:0.7}},
    axisLabel:{show:true,interval:0,rotate:45,fontSize:7.5,color:'#4D4D4D',margin:3,fontFamily:SANS,hideOverlap:false},
    splitLine:{show:false}};
  const P=addPanel({left,top:30,width:w,height:209,borderColor:'#333',borderWidth:0.8},
    [catX, valAxis(-0.5,4.5,[0,1,2,3,4],{label:false,tick:false,split:true})],
    [valAxis(-10.7,224.9,aYTicks,{label:i===0,tick:i===0,fs:8.5,split:true,margin:3,tickLen:3}),
     valAxis(-10.7,224.9,minorsOf(aYTicks,-10.7,224.9),{label:false,tick:false,split:true,splitWidth:0.4})]);
  series.push({type:'custom',coordinateSystem:'cartesian2d',xAxisIndex:P.xi,yAxisIndex:P.yi,silent:true,z:3,
    renderItem:boxRenderer(0.75,stageColors,'#333',0.6,1.2),encode:{x:0,y:[1,2,3,4,5]},
    data:aBoxStats[i].map((s,k)=>[k].concat(s))});
  const pts=[];aOutliers[i].forEach((arr,k)=>arr.forEach(v=>pts.push([k,v])));
  series.push({type:'scatter',xAxisIndex:P.xi,yAxisIndex:P.yi,data:pts,symbolSize:3.6,itemStyle:{color:'#333'},z:4,silent:true});
  R(left,13,w,17,'#D9D9D9','#333',0.8);
  T(left+w/2,21.5,g,8.3,{color:'#1A1A1A'});
});
T(20,135,'Immune checkpoint',10.5,{rot:Math.PI/2});
T(342,285,'Stage',10.5);
T(652,90,'Stage',10.5,{align:'left'});
stages.forEach((s,k)=>{
  const y=108+k*17.3;
  L(662,y-6,662,y-4,'#333',0.6);L(662,y+4,662,y+6,'#333',0.6);
  R(655,y-4,14,8,stageColors[k],'#333',0.6);
  L(655,y,669,y,'#222',1);
  T(676,y,s,9,{align:'left',color:'#1A1A1A'});
});

// ---------- Panel B ----------
T(9,289,'B',21,{family:SERIF});
const bLefts=[37.5,179.7,321.9,464.1,606.3],bW=110.8,bTops=[305,438.3],bHeights=[99,98.4];
bGenes.forEach((g,i)=>{
  const row=i<5?0:1,col=i%5,left=bLefts[col],top=bTops[row],h=bHeights[row];
  const [ymin,ymax]=bYRange[i],yt=bYTicks[i];
  const P=addPanel({left,top,width:bW,height:h,borderColor:'#333',borderWidth:0.8},
    [valAxis(-0.13,4.76,bXTicks,{split:true,fs:5.5,margin:2}),
     valAxis(-0.13,4.76,minorsOf(bXTicks,-0.13,4.76),{label:false,tick:false,split:true,splitWidth:0.4})],
    [valAxis(ymin,ymax,yt,{split:true,fs:5.5,margin:1.5,fmt:v=>v.toFixed(bYDec[i])}),
     valAxis(ymin,ymax,minorsOf(yt,ymin,ymax),{label:false,tick:false,split:true,splitWidth:0.4})]);
  series.push({type:'scatter',xAxisIndex:P.xi,yAxisIndex:P.yi,data:bPts[i],symbolSize:3.2,itemStyle:{color:'#000'},z:3,silent:true});
  series.push(bandSeries(P,loessX,bLoess[i],bBand[i],'#999999',0.4,5));
  series.push({type:'line',xAxisIndex:P.xi,yAxisIndex:P.yi,data:loessX.map((x,k)=>[x,bLoess[i][k]]),smooth:0.4,symbol:'none',
    lineStyle:{color:'#3366FF',width:1.3},z:6,silent:true});
  R(left,top-10,bW,10,'#D9D9D9','#333',0.6);
  T(left+bW/2,top-5,'MEX3A',5,{color:'#1A1A1A'});
  R(left-13,top,7.5,h,'#D9D9D9','#333',0.6);
  T(left-9.25,top+h/2,g,5,{rot:Math.PI/2,color:'#1A1A1A'});
  T(left+bW-2,top+7,bCor[i],5.5,{align:'right',color:'#FF0000'});
  T(left+bW-2,top+16,bP[i],5.5,{align:'right',color:'#FF0000'});
  T(left+bW/2,top+h+12.5,'Expression Level (log2 TPM)',6.8,{color:'#1A1A1A'});
  T(left-22.5,top+h/2,'Expression Level (log2 TPM)',6.8,{rot:Math.PI/2,color:'#1A1A1A'});
});

// ---------- Panel C ----------
T(9,587,'C',21,{family:SERIF});
{
  const P=addPanel({left:44,top:584.3,width:158,height:154,borderColor:'#AAAAAA',borderWidth:0.8},
    [valAxis(-0.6,15.4,cXTicks,{split:true,fs:5,margin:2,tickColor:'#888'}),
     valAxis(-0.6,15.4,minorsOf(cXTicks,-0.6,15.4),{label:false,tick:false,split:true,splitWidth:0.4,splitColor:'#F3F3F3'})],
    [valAxis(-2.07,2.49,cYTicks,{split:true,fs:5,margin:2,tickColor:'#888'}),
     valAxis(-2.07,2.49,minorsOf(cYTicks,-2.07,2.49),{label:false,tick:false,split:true,splitWidth:0.4,splitColor:'#F3F3F3'})]);
  series.push({type:'scatter',xAxisIndex:P.xi,yAxisIndex:P.yi,data:cPts.concat(cDense),symbolSize:2.8,itemStyle:{color:'#000'},z:3,silent:true});
  series.push(bandSeries(P,cLineX,cLineY,cBandHalf,'#999999',0.4,5));
  series.push({type:'line',xAxisIndex:P.xi,yAxisIndex:P.yi,data:cLineX.map((x,k)=>[x,cLineY[k]]),symbol:'none',
    lineStyle:{color:'#3366FF',width:1.1},z:6,silent:true});
  T(50,600,'R = 0.3, p = 5.1e-09',5.5,{align:'left',color:'#333'});
  T(32,661,'TIDE',5.5,{rot:Math.PI/2,color:'#333'});
  T(123,747,'MEX3A',5.5,{color:'#333'});
}

// ---------- violin panel builder ----------
function violinPanel(g,ymin,ymax,ticks,dec,profiles,halfUnits,boxes,outs,brY,pval,boxW){
  const P=addPanel(g,
    [valAxis(0.4,2.6,[1,2],{fmt:v=>groups[v-1],line:true,lineColor:'#444',fs:5,margin:2.5,tickLen:2,tickColor:'#444'})],
    [valAxis(ymin,ymax,ticks,{fmt:v=>v.toFixed(dec),line:true,lineColor:'#444',fs:5,margin:2,tickLen:2,tickColor:'#444'})]);
  series.push(violinSeries(P,profiles,halfUnits,groupColors));
  series.push({type:'custom',coordinateSystem:'cartesian2d',xAxisIndex:P.xi,yAxisIndex:P.yi,silent:true,z:4,
    renderItem:boxRenderer(boxW,['#FFFFFF'],'#555',0.6,1),encode:{x:0,y:[1,2,3,4,5]},
    data:boxes.map((s,k)=>[k+1].concat(s))});
  const pts=[];outs.forEach((arr,k)=>arr.forEach(v=>pts.push([k+1,v])));
  series.push({type:'scatter',xAxisIndex:P.xi,yAxisIndex:P.yi,data:pts,symbolSize:2.4,itemStyle:{color:'#000'},z:5,silent:true});
  series.push({type:'line',xAxisIndex:P.xi,yAxisIndex:P.yi,data:[[1,brY],[2,brY]],symbol:'none',lineStyle:{color:'#AAAAAA',width:0.8},z:6,silent:true});
  series.push({type:'scatter',xAxisIndex:P.xi,yAxisIndex:P.yi,data:[[1.5,brY]],symbolSize:0,z:7,silent:true,
    label:{show:true,position:'top',distance:0.5,formatter:pval,fontSize:4.8,color:'#333',fontFamily:SANS}});
  return P;
}

// ---------- Panel D ----------
T(247,587,'D',21,{family:SERIF});
legendMEX(338,590);
violinPanel({left:267,top:601,width:160,height:128},-2.78,3.08,dYTicks,0,
  [{y:dLowY,d:dLowD},{y:dHighY,d:dHighD}],0.495,dBox,dOut,2.35,dPval,0.205);
T(256,660,'TIDE',5.5,{rot:Math.PI/2,color:'#333'});
T(347,740,'MEX3A',5.3,{color:'#333'});

// ---------- Panel E ----------
T(459,587,'E',21,{family:SERIF});
{
  const P=addPanel({left:492,top:593,width:135,height:127},
    [valAxis(0.35,2.65,[1,2],{fmt:v=>eCats[v-1],line:true,lineColor:'#000',lineWidth:1.3,tickColor:'#000',tickWidth:1.2,tickLen:4,fs:8,ff:SERIF,fw:'bold',lc:'#000',margin:6})],
    [valAxis(0,120.95,eYTicks,{line:true,lineColor:'#000',lineWidth:1.3,tickColor:'#000',tickWidth:1.2,tickLen:4,fs:7.5,ff:SERIF,fw:'bold',lc:'#000',margin:3})]);
  const segs=[];
  eNoResp.forEach((v,j)=>{segs.push([j+1,0,v,0]);segs.push([j+1,v,v+eResp[j],1]);});
  series.push({type:'custom',coordinateSystem:'cartesian2d',xAxisIndex:P.xi,yAxisIndex:P.yi,silent:true,z:3,
    data:segs,encode:{x:0,y:[1,2]},
    renderItem:(params,api)=>{
      const x=api.value(0),y0=api.value(1),y1=api.value(2),c=api.value(3);
      const a=api.coord([x,y0]),b=api.coord([x,y1]),w=api.size([0.647,0])[0];
      return {type:'group',children:[
        {type:'rect',shape:{x:a[0]-w/2,y:b[1],width:w,height:a[1]-b[1]},style:{fill:eColors[c]}},
        {type:'text',x:a[0],y:(a[1]+b[1])/2,style:{text:(y1-y0).toFixed(2),fontFamily:SERIF,fontWeight:'bold',fontSize:8,fill:'#111',align:'center',verticalAlign:'middle'}}
      ]};
    }});
  T(557.5,600,'P=0.0001',9.5,{family:SERIF});
  T(467,657,'Percentage (%)',8.3,{rot:Math.PI/2,family:SERIF,weight:'bold'});
  L(503,737,615,737,'#000',1);
  T(559,745.5,'MEX3A',7.3,{family:SERIF});
  R(636,606.5,12,7,eColors[1]);
  T(655,610,'Response',7.5,{align:'left',family:SERIF,color:'#222'});
  R(636,622.5,12,7,eColors[0]);
  T(655,626,'No Response',7.5,{align:'left',family:SERIF,color:'#222'});
}

// ---------- Panel F ----------
T(8,771,'F',21,{family:SERIF});
const fGeo=[{left:32,width:146},{left:208,width:140},{left:374,width:149},{left:543,width:149}];
const fRange=[[3.95,11.05],[2.54,11.5],[3.67,11.4],[1.32,11.65]];
const fHalf=[0.572,0.503,0.48,0.532];
const fProfiles=[
 [{y:f1LowY,d:f1LowD},{y:f1HighY,d:f1HighD}],
 [{y:f2LowY,d:f2LowD},{y:f2HighY,d:f2HighD}],
 [{y:f3LowY,d:f3LowD},{y:f3HighY,d:f3HighD}],
 [{y:f4LowY,d:f4LowD},{y:f4HighY,d:f4HighD}]
];
const fLegendX=[97,271,441,612];
const fTitleX=[20,196,364,536];
fTitles.forEach((t,i)=>{
  const g=fGeo[i];
  violinPanel({left:g.left,top:784,width:g.width,height:117},fRange[i][0],fRange[i][1],fYTicks[i],fYDec[i],
    fProfiles[i],fHalf[i],fBox[i],fOut[i],fBracketY[i],fPvals[i],0.23);
  legendMEX(fLegendX[i],775.5);
  T(fTitleX[i],842,t,4.8,{rot:Math.PI/2,color:'#333'});
  T(g.left+g.width/2,909,'MEX3A',5,{color:'#333'});
});

const chart=echarts.init(document.getElementById('chart'),null,{renderer:'canvas',width:719,height:912});
chart.setOption({animation:false,backgroundColor:'#fff',textStyle:{fontFamily:SANS},
  grid,xAxis,yAxis,series,graphic:{elements:graphic}});
</script></body></html>
